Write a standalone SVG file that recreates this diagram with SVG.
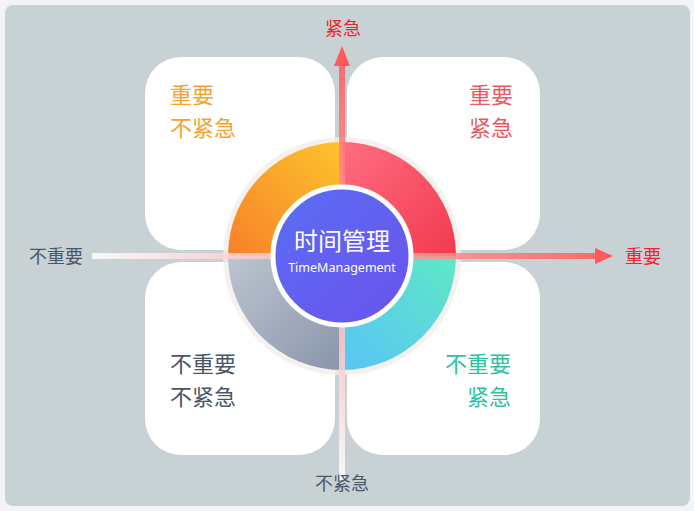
<svg xmlns="http://www.w3.org/2000/svg" width="694" height="511" viewBox="0 0 694 511">
<defs>
<linearGradient id="gTL" x1="1" y1="0" x2="0" y2="1"><stop offset="0" stop-color="#fcc42c"/><stop offset="1" stop-color="#f7802a"/></linearGradient>
<linearGradient id="gTR" x1="0" y1="0" x2="1" y2="1"><stop offset="0" stop-color="#ff6d80"/><stop offset="1" stop-color="#f23a50"/></linearGradient>
<linearGradient id="gBR" x1="1" y1="0" x2="0" y2="1"><stop offset="0" stop-color="#5ee8c6"/><stop offset="1" stop-color="#5ac4f6"/></linearGradient>
<linearGradient id="gBL" x1="0" y1="0" x2="1" y2="1"><stop offset="0" stop-color="#bcc5d0"/><stop offset="1" stop-color="#8a95ab"/></linearGradient>
<linearGradient id="gC" x1="0" y1="0" x2="1" y2="1"><stop offset="0" stop-color="#5a6ef2"/><stop offset="1" stop-color="#6b52ee"/></linearGradient>
<linearGradient id="gV" x1="0" y1="0" x2="0" y2="1"><stop offset="0" stop-color="#ff5a5a"/><stop offset="1" stop-color="#ffffff"/></linearGradient>
<linearGradient id="gH" x1="0" y1="0" x2="1" y2="0"><stop offset="0" stop-color="#ffffff"/><stop offset="1" stop-color="#ff5a5a"/></linearGradient>
<style>
.card{fill:#ffffff}
.q{font-family:"Noto Sans CJK SC","Noto Sans",sans-serif;font-size:22px}
.ax{font-family:"Noto Sans CJK SC","Noto Sans",sans-serif;font-size:18px}
</style>
</defs>
<rect x="0" y="0" width="694" height="511" fill="#f2f4f5"/>
<rect x="5" y="5" width="685" height="501" rx="8" fill="#c8d1d3"/>
<g id="cards">
<rect class="card" x="145" y="57" width="190" height="193" rx="36"/>
<rect class="card" x="347" y="57" width="193" height="193" rx="36"/>
<rect class="card" x="145" y="262" width="190" height="193" rx="36"/>
<rect class="card" x="347" y="262" width="193" height="193" rx="36"/>
</g>
<g id="ring">
<circle cx="342" cy="256" r="119" fill="#f3eeea" opacity="0.8"/>
<path d="M342 256 L228 256 A114 114 0 0 1 342 142 Z" fill="url(#gTL)"/>
<path d="M342 256 L342 142 A114 114 0 0 1 456 256 Z" fill="url(#gTR)"/>
<path d="M342 256 L456 256 A114 114 0 0 1 342 370 Z" fill="url(#gBR)"/>
<path d="M342 256 L342 370 A114 114 0 0 1 228 256 Z" fill="url(#gBL)"/>
</g>
<g id="connectors">
<rect x="339" y="62" width="6" height="418" fill="url(#gV)" opacity="0.85"/>
<polygon points="342,46 334,66 350,66" fill="#ff5a5a"/>
<rect x="92" y="253" width="506" height="6" fill="url(#gH)" opacity="0.85"/>
<polygon points="613,256 595,248 595,264" fill="#ff5a5a"/>
</g>
<g id="center">
<circle cx="342" cy="256" r="69" fill="url(#gC)" stroke="#ffffff" stroke-width="5"/>
<text x="342" y="250" text-anchor="middle" font-family="Noto Sans CJK SC,sans-serif" font-size="24" fill="#ffffff">时间管理</text>
<text x="342" y="272" text-anchor="middle" font-family="Noto Sans,sans-serif" font-size="12.5" fill="#ffffff">TimeManagement</text>
</g>
<g id="labels">
<text class="ax" x="343" y="35" text-anchor="middle" fill="#e8262b">紧急</text>
<text class="ax" x="643" y="263" text-anchor="middle" fill="#e8262b">重要</text>
<text class="ax" x="56" y="263" text-anchor="middle" fill="#4a5568">不重要</text>
<text class="ax" x="342" y="490" text-anchor="middle" fill="#4a5568">不紧急</text>
<text class="q" x="170" y="103" fill="#f5a330">重要</text>
<text class="q" x="170" y="136" fill="#f5a330">不紧急</text>
<text class="q" x="513" y="103" text-anchor="end" fill="#e95a60">重要</text>
<text class="q" x="513" y="136" text-anchor="end" fill="#e95a60">紧急</text>
<text class="q" x="170" y="372" fill="#4a5568">不重要</text>
<text class="q" x="170" y="405" fill="#4a5568">不紧急</text>
<text class="q" x="511" y="372" text-anchor="end" fill="#2bc4a0">不重要</text>
<text class="q" x="511" y="405" text-anchor="end" fill="#2bc4a0">紧急</text>
</g>
</svg>
